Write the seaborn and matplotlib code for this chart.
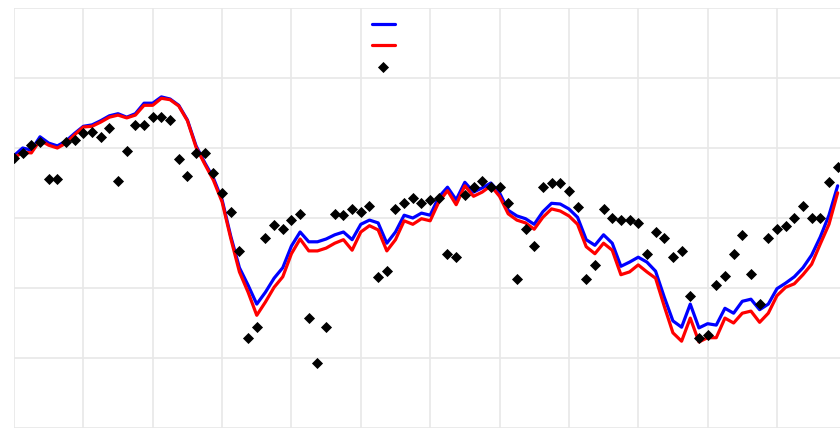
import numpy as np
import pandas as pd
import matplotlib
matplotlib.use("Agg")
import matplotlib.pyplot as plt
import seaborn as sns

# Observations (black diamonds), one per step
observed = [
    38.6, 39.3, 40.4, 40.9, 35.6, 35.6, 40.9, 41.1, 42.1, 42.3,
    41.6, 42.9, 35.3, 39.6, 43.3, 43.3, 44.4, 44.4, 44.0, 38.4,
    36.0, 39.3, 39.3, 36.4, 33.6, 30.9, 25.3, 12.9, 14.4, 27.1,
    29.0, 28.4, 29.7, 30.6, 15.7, 9.3, 14.4, 30.6, 30.4, 31.3,
    30.9, 31.7, 21.6, 22.4, 31.3, 32.1, 32.9, 32.1, 32.6, 32.9,
    24.9, 24.4, 33.3, 34.4, 35.3, 34.4, 34.4, 32.1, 21.3, 28.4,
    26.0, 34.4, 35.0, 35.0, 33.9, 31.6, 21.3, 23.3, 31.3, 30.0,
    29.7, 29.7, 29.3, 24.9, 28.0, 27.1, 24.4, 25.3, 18.9, 12.9,
    13.3, 20.4, 21.7, 24.9, 27.6, 22.0, 17.7, 27.1, 28.4, 28.9,
    30.0, 31.7, 30.0, 30.0, 35.1, 37.3,
]

# Smoothed estimate (blue)
smooth_blue = [
    38.9, 40.0, 39.7, 41.6, 40.7, 40.3, 41.0, 42.1, 43.1, 43.3,
    43.9, 44.6, 44.9, 44.4, 44.9, 46.4, 46.4, 47.3, 47.0, 46.1,
    44.0, 40.3, 37.9, 35.7, 32.6, 27.4, 22.9, 20.4, 17.7, 19.4,
    21.4, 22.9, 26.0, 28.0, 26.6, 26.6, 27.0, 27.6, 28.0, 26.9,
    29.1, 29.7, 29.3, 26.4, 28.0, 30.4, 30.0, 30.7, 30.4, 33.0,
    34.4, 32.6, 35.1, 33.7, 34.3, 35.0, 33.6, 31.1, 30.3, 29.9,
    29.1, 30.9, 32.1, 32.0, 31.3, 30.1, 26.9, 26.1, 27.6, 26.4,
    23.1, 23.7, 24.4, 23.7, 22.4, 18.7, 15.3, 14.4, 17.7, 14.3,
    14.9, 14.7, 17.1, 16.4, 18.1, 18.4, 16.9, 17.7, 19.9, 20.7,
    21.6, 22.9, 24.7, 27.3, 30.4, 34.6,
]

# Smoothed estimate (red)
smooth_red = [
    38.6, 39.4, 39.3, 41.1, 40.4, 40.0, 40.7, 41.9, 43.0, 43.1,
    43.7, 44.4, 44.7, 44.3, 44.7, 46.1, 46.1, 47.1, 46.9, 46.0,
    43.9, 40.1, 37.7, 35.4, 32.3, 27.1, 22.3, 19.4, 16.1, 18.0,
    20.1, 21.6, 24.9, 27.0, 25.3, 25.3, 25.7, 26.4, 26.9, 25.4,
    28.0, 28.9, 28.3, 25.3, 26.9, 29.6, 29.1, 29.9, 29.6, 32.3,
    33.9, 31.9, 34.6, 33.1, 33.7, 34.6, 33.1, 30.6, 29.7, 29.3,
    28.4, 30.1, 31.3, 31.0, 30.3, 29.1, 25.9, 24.9, 26.4, 25.4,
    21.9, 22.3, 23.3, 22.3, 21.4, 17.4, 13.6, 12.4, 15.7, 12.3,
    12.9, 12.9, 15.7, 15.0, 16.4, 16.7, 15.1, 16.4, 18.9, 20.1,
    20.6, 21.9, 23.4, 26.3, 29.1, 33.6,
]

step = list(range(len(observed)))
df = pd.DataFrame({"step": step, "observed": observed,
                   "blue": smooth_blue, "red": smooth_red})

sns.set_style("white")

fig = plt.figure(figsize=(8.4, 4.3), dpi=100)
W, H = 840, 430
unit = 69.36  # pixels per grid cell horizontally
ax = fig.add_axes([14 / W, 2 / H, 12 * unit / W, 420 / H])

sns.lineplot(data=df, x="step", y="blue", ax=ax, color="#0000ff",
             linewidth=2.3, label=" ", solid_joinstyle="round",
             solid_capstyle="round")
sns.lineplot(data=df, x="step", y="red", ax=ax, color="#ff0000",
             linewidth=2.3, label=" ", solid_joinstyle="round",
             solid_capstyle="round")
sns.scatterplot(data=df, x="step", y="observed", ax=ax, marker="D",
                s=32, color="black", linewidth=0, label=" ", zorder=5)

ax.set_xlim(0, 96)
ax.set_ylim(0, 60)
ax.set_xticks(range(0, 97, 8))
ax.set_yticks(range(0, 61, 10))
ax.set_xticklabels([])
ax.set_yticklabels([])
ax.tick_params(length=0)
ax.set_xlabel("")
ax.set_ylabel("")
ax.grid(True, color="#e8e8e8", linewidth=1.2)
ax.set_axisbelow(True)
for s in ax.spines.values():
    s.set_visible(False)

leg = ax.legend(loc="upper left", bbox_to_anchor=(372 / W, 1 - 18 / H),
                bbox_transform=fig.transFigure, frameon=False,
                fontsize=10, handlelength=1.65, labelspacing=0.48,
                borderpad=0, borderaxespad=0, scatterpoints=1)

fig.savefig("out.png", dpi=100)
